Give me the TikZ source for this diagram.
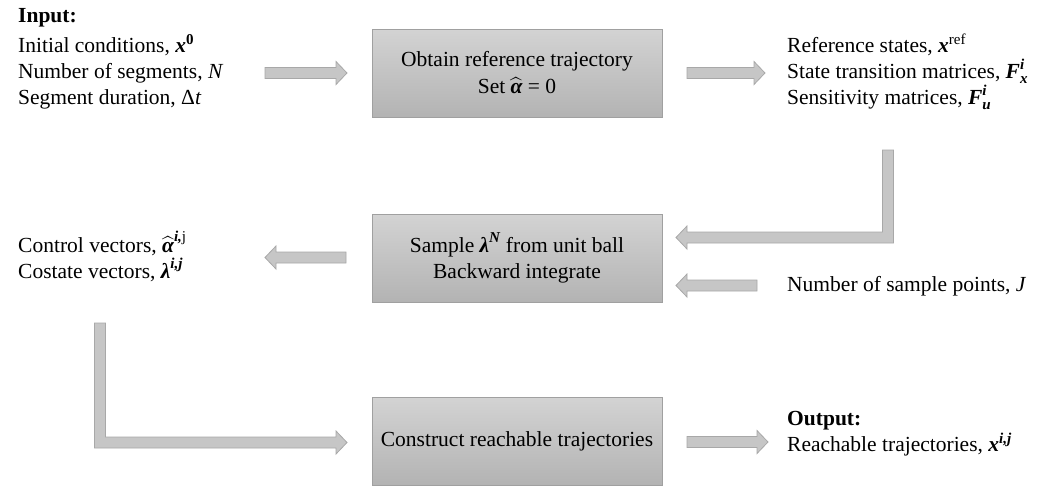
\documentclass[tikz,border=0pt]{standalone}
\usepackage{amsmath}
\usepackage{fontspec}
\setmainfont{Liberation Serif}
\usetikzlibrary{calc}
\definecolor{boxtop}{HTML}{D3D3D3}
\definecolor{boxbot}{HTML}{B3B3B3}
\definecolor{boxline}{HTML}{A0A0A0}
\definecolor{arrfill}{HTML}{C6C6C6}
\definecolor{arrline}{HTML}{A8A8A8}
\newcommand\bxi[1]{\text{\bfseries\itshape #1}}
\newcommand\mxi[1]{\text{\itshape #1}}
\newcommand\arrowR[2]{\draw[blk] let \p1=(#1),\p2=(#2) in (\x1,\y1+5.5pt) -- (\x2-11pt,\y1+5.5pt) -- (\x2-11pt,\y1+11.5pt) -- (\x2,\y1) -- (\x2-11pt,\y1-11.5pt) -- (\x2-11pt,\y1-5.5pt) -- (\x1,\y1-5.5pt) -- cycle;}
\newcommand\arrowL[2]{\draw[blk] let \p1=(#1),\p2=(#2) in (\x1,\y1+5.5pt) -- (\x2+11pt,\y1+5.5pt) -- (\x2+11pt,\y1+11.5pt) -- (\x2,\y1) -- (\x2+11pt,\y1-11.5pt) -- (\x2+11pt,\y1-5.5pt) -- (\x1,\y1-5.5pt) -- cycle;}
\begin{document}
\begin{tikzpicture}[x=1pt,y=-1pt,
  font=\fontsize{21.5}{26}\selectfont,
  box/.style={draw=boxline, line width=0.8pt, top color=boxtop, bottom color=boxbot,
    minimum width=290pt, minimum height=88pt, align=center, inner sep=0pt},
  txt/.style={align=left, anchor=north west, inner sep=0pt},
  blk/.style={fill=arrfill, draw=arrline, line width=0.8pt}]
\fill[white] (0,0) rectangle (1045,488);
\useasboundingbox (0,0) rectangle (1045,488);

% process boxes
\node[box] (b1) at (517,73) {Obtain reference trajectory\\[1pt]Set $\widehat{\bxi{α}}$ = 0};
\node[box] (b2) at (517,258) {Sample $\bxi{λ}^{\bxi{N}}$ from unit ball\\Backward integrate};
\node[box] (b3) at (517,441) {Construct reachable trajectories};

% text blocks
\node[txt] (inp) at (18,8) {\textbf{Input:}\\[4pt]Initial conditions, $\bxi{x}^{\text{\bfseries 0}}$\\Number of segments, \textit{N}\\Segment duration, Δ\textit{t}};
\node[txt] (ref) at (787,34) {Reference states, $\bxi{x}^{\mathrm{ref}}$\\State transition matrices, $\bxi{F}_{\bxi{x}}^{\bxi{i}}$\\Sensitivity matrices, $\bxi{F}_{\bxi{u}}^{\bxi{i}}$};
\node[txt] (ctl) at (18,231) {Control vectors, $\widehat{\bxi{α}}^{\text{\bfseries\itshape i,\mdseries\upshape j}}$\\Costate vectors, $\bxi{λ}^{\bxi{i,j}}$};
\node[inner sep=0pt, anchor=base west] (nsp) at (787,291) {Number of sample points, \textit{J}};
\node[txt] (out) at (787,411) {\textbf{Output:}\\Reachable trajectories, $\bxi{x}^{\bxi{i,j}}$};

% connector end points
\coordinate (a1s) at (265,73);   \coordinate (a1t) at (347,73);
\coordinate (a2s) at (687,73);   \coordinate (a2t) at (765,73);
\coordinate (a3s) at (888,150);  \coordinate (a3t) at (676,237.5);
\coordinate (a4s) at (346,257.5);\coordinate (a4t) at (265,257.5);
\coordinate (a5s) at (757,285.5);\coordinate (a5t) at (676,285.5);
\coordinate (a6s) at (100,323);  \coordinate (a6t) at (347,442.5);
\coordinate (a7s) at (687,442);  \coordinate (a7t) at (768,442);

\arrowR{a1s}{a1t}
\arrowR{a2s}{a2t}
\draw[blk] let \p1=(a3s), \p2=(a3t) in
  (\x1-5.5pt,\y1) -- (\x1-5.5pt,\y2+5.5pt) -- (\x2+11pt,\y2+5.5pt) -- (\x2+11pt,\y2+11.5pt)
  -- (\x2,\y2) -- (\x2+11pt,\y2-11.5pt) -- (\x2+11pt,\y2-5.5pt) -- (\x1+5.5pt,\y2-5.5pt)
  -- (\x1+5.5pt,\y1) -- cycle;
\arrowL{a4s}{a4t}
\arrowL{a5s}{a5t}
\draw[blk] let \p1=(a6s), \p2=(a6t) in
  (\x1-5.5pt,\y1) -- (\x1-5.5pt,\y2-5.5pt) -- (\x2-11pt,\y2-5.5pt) -- (\x2-11pt,\y2-11.5pt)
  -- (\x2,\y2) -- (\x2-11pt,\y2+11.5pt) -- (\x2-11pt,\y2+5.5pt) -- (\x1+5.5pt,\y2+5.5pt)
  -- (\x1+5.5pt,\y1) -- cycle;
\arrowR{a7s}{a7t}
\end{tikzpicture}
\end{document}
